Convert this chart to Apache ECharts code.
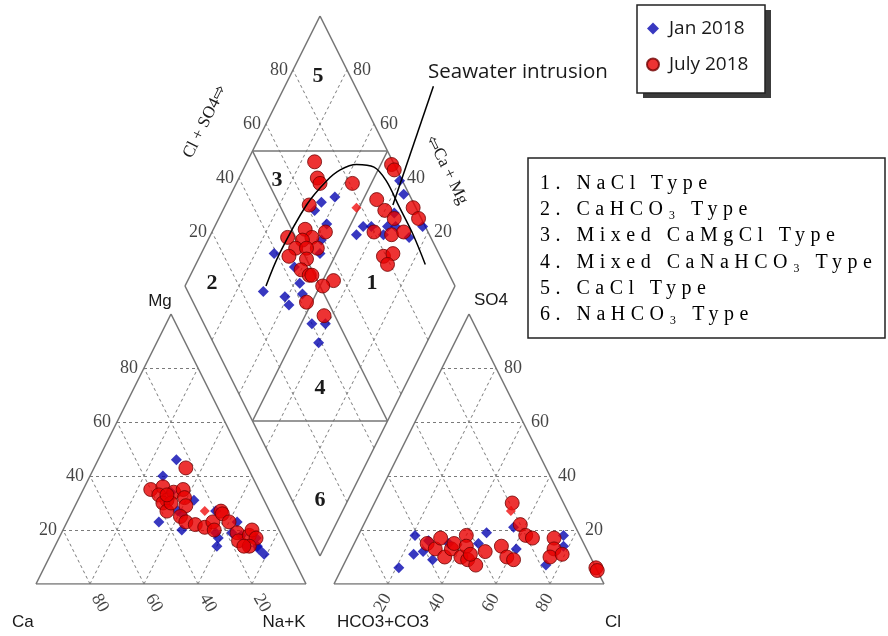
<!DOCTYPE html>
<html lang="en">
<head>
<meta charset="UTF-8">
<title>Piper diagram</title>
<script src="https://cdn.jsdelivr.net/npm/echarts@6/dist/echarts.min.js"></script>
<style>
    html, body { margin: 0; padding: 0; background: #fff; }
    #wrap { position: relative; width: 888px; height: 636px; }
    #chart { width: 888px; height: 636px; }
    /* the type list is drawn by a second (svg) chart so it can take css letter spacing */
    #types { position: absolute; left: 520px; top: 150px; width: 368px; height: 200px; letter-spacing: 5.5px; }
</style>
</head>
<body>
<div id="wrap">
    <div id="chart"></div>
    <div id="types"></div>
</div>
<script>
    var ticks = [20, 40, 60, 80];

    // cation triangle, [Ca, Mg, Na+K] %
    var janCation = [[25,46,29],[33,40,27],[43,23,34],[36,20,44],[26,31,43],[33,34,33],[34,27,39],[24,17,59],[26,14,60],[20,27,53],
        [14,23,63],[15,18,67],[18,19,63],[11,13,76],[10,11,79],[10,17,73],[15,14,71],[33,26,41],[24,19,57],[11,14,75]];
    var julCation = [[23,43,34],[40,35,25],[35,36,29],[38,33,29],[36,31,33],[38,30,32],[38,27,35],[32,34,34],[28,35,37],[29,32,39],
        [30,29,41],[34,25,41],[33,23,44],[30,22,48],[27,21,52],[23,23,54],[24,20,56],[18,27,55],[18,26,56],[17,23,60],
        [16,19,65],[17,16,67],[12,18,70],[10,20,70],[10,17,73],[14,14,72],[16,14,70],[35,30,35],[35,33,32]];
    var markCation = [[24,27,49]];

    // anion triangle, [HCO3+CO3, SO4, Cl] %
    var janAnion = [[73,6,21],[65,11,24],[61,18,21],[61,12,27],[59,9,32],[34,19,47],[39,15,46],[26,13,61],[23,21,56],[6,18,76],
        [8,14,78],[18,7,75],[50,15,35],[57,16,27]];
    var julAnion = [[58,15,27],[56,13,31],[52,17,31],[54,10,36],[50,13,37],[48,15,37],[48,10,42],[42,18,40],[44,14,42],[46,9,45],
        [44,7,49],[44,11,45],[38,12,50],[31,14,55],[31,10,59],[29,9,62],[19,30,51],[20,22,58],[20,18,62],[18,17,65],
        [10,17,73],[12,13,75],[15,10,75],[10,11,79],[0,6,94],[0,5,95]];
    var markAnion = [[21,27,52]];

    // diamond, [Ca+Mg, Cl+SO4] %
    var janDiamond = [[70,28],[73,39],[61,35],[58,35],[63,44],[58,43],[55,42],[46,40],[41,45],[40,39],
        [65,66],[66,62],[61,72],[59,64],[58,59],[56,56],[46,73],[45,77],[42,80],[36,83],
        [36,86],[33,89],[36,98],[40,99],[23,99],[26,92],[36,91]];
    var julDiamond = [[75,71],[71,69],[69,69],[57,81],[46,99],[44,99],[45,87],[40,88],[35,90],[30,99],
        [26,99],[40,80],[33,86],[29,91],[32,79],[29,83],[29,79],[69,61],[71,47],[66,55],
        [62,56],[65,52],[58,56],[66,48],[62,52],[67,44],[60,50],[60,46],[56,48],[55,49],
        [58,62],[46,56],[49,51],[52,42],[43,46]];
    var markDiamond = [[51,78]];

    // seawater intrusion trend drawn on the diamond, [Ca+Mg, Cl+SO4]
    var seawaterCurve = [[70,30],[71,41],[70,60],[67,72],[64,79],[59,86],[52,92],[45,94],[35,94],[25,94],[15,93]];
    var seawaterPointer = [[45,129],[38,92]];

    var typeLabels = ['1. NaCl Type', '2. CaHCO\u2083 Type', '3. Mixed CaMgCl Type',
        '4. Mixed CaNaHCO\u2083 Type', '5. CaCl Type', '6. NaHCO\u2083 Type'];

    // piper layout: each triangle side is 100, gap between triangles in the same unit
    var GAP = 10.37, AX = 100 + GAP, DX = 100 + GAP / 2, DY = GAP, TOP = 200 + GAP;

    function cat(p) { return [p[2] + p[1] / 2, p[1]]; }
    function ani(p) { return [AX + p[2] + p[1] / 2, p[1]]; }
    function dia(p) { return [DX + (p[1] - p[0]) / 2, DY + p[0] + p[1]]; }
    function seg(a, b) { return { coords: [a, b] }; }

    var frame = [], dotted = [], split = [];
    [cat, ani].forEach(function (f) {
        frame.push(seg(f([100,0,0]), f([0,0,100])), seg(f([0,0,100]), f([0,100,0])), seg(f([0,100,0]), f([100,0,0])));
        ticks.forEach(function (v) {
            dotted.push(seg(f([100 - v, v, 0]), f([0, v, 100 - v])));
            dotted.push(seg(f([100 - v, 0, v]), f([0, 100 - v, v])));
            dotted.push(seg(f([v, 0, 100 - v]), f([v, 100 - v, 0])));
        });
    });
    frame.push(seg(dia([0,0]), dia([100,0])), seg(dia([100,0]), dia([100,100])),
        seg(dia([100,100]), dia([0,100])), seg(dia([0,100]), dia([0,0])));
    ticks.forEach(function (v) {
        dotted.push(seg(dia([v, 0]), dia([v, 100])));
        dotted.push(seg(dia([0, v]), dia([100, v])));
    });
    split.push(seg(dia([50,0]), dia([50,100])), seg(dia([0,50]), dia([100,50])),
        seg(dia([100,50]), dia([50,100])), seg(dia([50,0]), dia([0,50])));

    // label offsets are given in the rotated label frame
    var tickLabels = [];
    ticks.forEach(function (v) {
        var t = String(v);
        tickLabels.push({ value: cat([100 - v, v, 0]), label: { formatter: t, position: 'left', distance: 6 } });
        tickLabels.push({ value: cat([v, 0, 100 - v]), label: { formatter: t, position: 'inside', rotate: -60, offset: [21.5, 1] } });
        tickLabels.push({ value: ani([0, v, 100 - v]), label: { formatter: t, position: 'right', distance: 8 } });
        tickLabels.push({ value: ani([100 - v, 0, v]), label: { formatter: t, position: 'inside', rotate: 60, offset: [-19, 5] } });
        tickLabels.push({ value: dia([100, v]), label: { formatter: t, position: 'left', distance: 5 } });
        tickLabels.push({ value: dia([v, 100]), label: { formatter: t, position: 'right', distance: 6 } });
    });

    function points(c, a, d) {
        return c.map(cat).concat(a.map(ani), d.map(dia));
    }

    var SERIF = "'Liberation Serif', 'Times New Roman', serif";
    var SANS = "'Liberation Sans', Arial, sans-serif";

    function txt(text, x, y, font, align, rot) {
        return {
            type: 'text', x: x, y: y, rotation: rot || 0, z: 10, silent: true,
            style: { text: text, font: font, fill: '#1a1a1a', align: align || 'center', verticalAlign: 'middle' }
        };
    }

    var chart = echarts.init(document.getElementById('chart'));
    chart.setOption({
        animation: false,
        grid: { left: 36, right: 284, top: 584 - TOP * 2.7, bottom: 52 },
        xAxis: { type: 'value', min: 0, max: TOP, show: false },
        yAxis: { type: 'value', min: 0, max: TOP, show: false },
        legend: {
            data: ['Jan 2018', 'July 2018'], orient: 'vertical', left: 646, top: 19, padding: 0,
            itemGap: 17, itemWidth: 12, itemHeight: 12, z: 20, selectedMode: false,
            textStyle: { fontFamily: "'Open Sans', sans-serif", fontSize: 19, color: '#1a1a1a', padding: [0, 0, 0, 5] }
        },
        graphic: [
            { type: 'rect', z: 1, silent: true, shape: { x: 643, y: 10, width: 128, height: 88 }, style: { fill: '#3c3c3c' } },
            { type: 'rect', z: 2, silent: true, shape: { x: 637, y: 5, width: 128, height: 88 },
                style: { fill: '#fff', stroke: '#222', lineWidth: 1.5 } },
            txt('Ca', 12, 622, '17px ' + SANS, 'left'),
            txt('Na+K', 284, 622, '17px ' + SANS),
            txt('Mg', 160, 301, '17px ' + SANS),
            txt('SO4', 491, 300, '17px ' + SANS),
            txt('HCO3+CO3', 383, 622, '17px ' + SANS),
            txt('Cl', 605, 622, '17px ' + SANS, 'left'),
            txt('5', 318, 76, 'bold 22px ' + SERIF),
            txt('3', 277, 180, 'bold 22px ' + SERIF),
            txt('2', 212, 283, 'bold 22px ' + SERIF),
            txt('1', 372, 283, 'bold 22px ' + SERIF),
            txt('4', 320, 388, 'bold 22px ' + SERIF),
            txt('6', 320, 500, 'bold 22px ' + SERIF),
            txt('Cl + SO4\u21e8', 205, 122, '17px ' + SERIF, 'center', 1.11),
            txt('\u21e6Ca + Mg', 447, 170, '17px ' + SERIF, 'center', -1.11),
            txt('Seawater intrusion', 428, 72, "20.5px 'Open Sans', sans-serif", 'left')
        ],
        series: [
            { type: 'lines', coordinateSystem: 'cartesian2d', silent: true, z: 1, data: dotted,
                lineStyle: { color: '#7a7a7a', width: 1, type: [3, 3], opacity: 1 } },
            { type: 'lines', coordinateSystem: 'cartesian2d', silent: true, z: 2, data: frame.concat(split),
                lineStyle: { color: '#767676', width: 1.5, opacity: 1 } },
            { type: 'scatter', silent: true, z: 3, symbolSize: 0, clip: false, data: tickLabels,
                label: { show: true, fontFamily: SERIF, fontSize: 18, color: '#151515' } },
            { name: 'Jan 2018', type: 'scatter', z: 4, clip: false, symbol: 'diamond', symbolSize: 11,
                itemStyle: { color: '#0606b0' },
                data: points(janCation, janAnion, janDiamond) },
            { name: 'July 2018', type: 'scatter', z: 5, clip: false, symbol: 'circle', symbolSize: 14,
                itemStyle: { color: '#e80000', borderColor: '#700000', borderWidth: 1 },
                data: points(julCation, julAnion, julDiamond) },
            { name: 'mark', type: 'scatter', z: 6, clip: false, symbol: 'diamond', symbolSize: 10,
                itemStyle: { color: '#f01010' },
                data: points(markCation, markAnion, markDiamond) },
            { type: 'line', silent: true, z: 7, smooth: 0.35, symbol: 'none',
                lineStyle: { color: '#000', width: 1.5 }, data: seawaterCurve.map(dia) },
            { type: 'lines', coordinateSystem: 'cartesian2d', silent: true, z: 7,
                data: [seg(dia(seawaterPointer[0]), dia(seawaterPointer[1]))],
                lineStyle: { color: '#000', width: 1.5, opacity: 1 } }
        ]
    });

    var types = echarts.init(document.getElementById('types'), null, { renderer: 'svg' });
    types.setOption({
        animation: false,
        graphic: [{ type: 'rect', silent: true, shape: { x: 8, y: 8, width: 357, height: 180 },
            style: { fill: '#fff', stroke: '#222', lineWidth: 1.5 } }].concat(typeLabels.map(function (t, i) {
            return { type: 'text', x: 20, y: 32 + i * 26.2, silent: true,
                style: { text: t, font: '20px ' + SERIF, fill: '#000', align: 'left', verticalAlign: 'middle' } };
        }))
    });
</script>
</body>
</html>
